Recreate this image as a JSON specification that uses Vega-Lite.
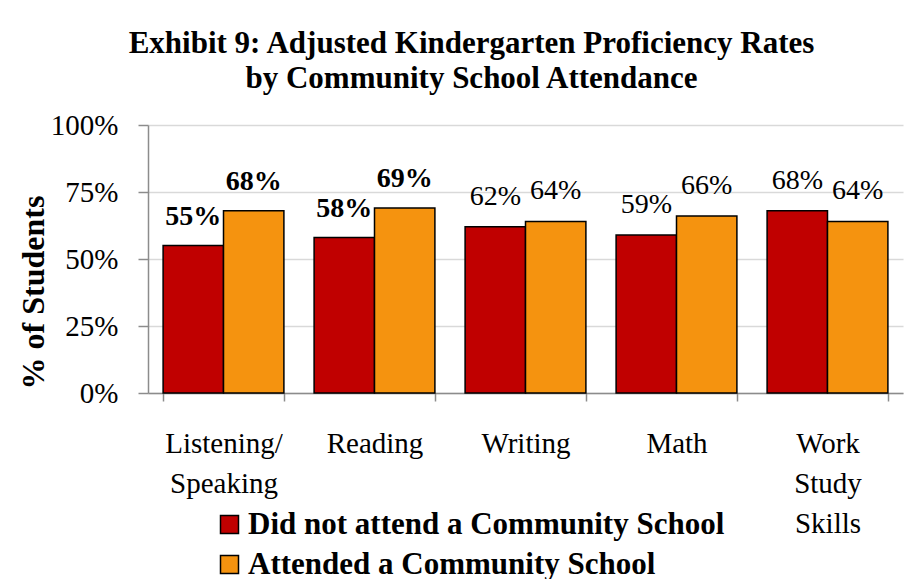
{
  "$schema": "https://vega.github.io/schema/vega-lite/v6.json",
  "autosize": {"type": "none"},
  "width": 755,
  "height": 268,
  "padding": {"left": 148, "top": 125, "right": 5, "bottom": 186},
  "background": "white",
  "config": {
    "font": "Liberation Serif",
    "view": {"stroke": null}
  },
  "title": {
    "text": ["Exhibit 9: Adjusted Kindergarten Proficiency Rates", "by Community School Attendance"],
    "font": "Liberation Serif",
    "fontSize": 31,
    "fontWeight": "bold",
    "color": "black",
    "lineHeight": 35,
    "anchor": "middle",
    "dx": -54,
    "offset": 16
  },
  "data": {
    "values": [
      {"domain": "Listening/Speaking", "group": "Did not attend a Community School", "rate": 0.55, "significant": true},
      {"domain": "Listening/Speaking", "group": "Attended a Community School", "rate": 0.68, "significant": true},
      {"domain": "Reading", "group": "Did not attend a Community School", "rate": 0.58, "significant": true},
      {"domain": "Reading", "group": "Attended a Community School", "rate": 0.69, "significant": true},
      {"domain": "Writing", "group": "Did not attend a Community School", "rate": 0.62, "significant": false},
      {"domain": "Writing", "group": "Attended a Community School", "rate": 0.64, "significant": false},
      {"domain": "Math", "group": "Did not attend a Community School", "rate": 0.59, "significant": false},
      {"domain": "Math", "group": "Attended a Community School", "rate": 0.66, "significant": false},
      {"domain": "Work Study Skills", "group": "Did not attend a Community School", "rate": 0.68, "significant": false},
      {"domain": "Work Study Skills", "group": "Attended a Community School", "rate": 0.64, "significant": false}
    ]
  },
  "encoding": {
    "x": {
      "field": "domain",
      "type": "nominal",
      "sort": null,
      "scale": {"paddingInner": 0.2, "paddingOuter": 0.1},
      "axis": {
        "title": null,
        "labelAngle": 0,
        "labelFont": "Liberation Serif",
        "labelFontSize": 29,
        "labelColor": "black",
        "labelPadding": 28,
        "labelLineHeight": 40,
        "labelBaseline": "top",
        "labelExpr": "!isValid(datum.value) ? '' : datum.value == 'Listening/Speaking' ? ['Listening/', 'Speaking'] : split(datum.value, ' ')",
        "tickBand": "extent",
        "tickSize": 8,
        "tickColor": "#8c8c8c",
        "tickWidth": 1.5,
        "domainColor": "#8c8c8c",
        "domainWidth": 1.5,
        "grid": false
      }
    },
    "xOffset": {
      "field": "group",
      "type": "nominal",
      "sort": ["Did not attend a Community School", "Attended a Community School"]
    },
    "y": {
      "field": "rate",
      "type": "quantitative",
      "scale": {"domain": [0, 1]},
      "axis": {
        "title": "% of Students",
        "titleFont": "Liberation Serif",
        "titleFontSize": 32,
        "titleFontWeight": "bold",
        "titleColor": "black",
        "titlePadding": 0,
        "titleY": 167,
        "values": [0, 0.25, 0.5, 0.75, 1],
        "format": ".0%",
        "labelFont": "Liberation Serif",
        "labelFontSize": 29,
        "labelColor": "black",
        "labelPadding": 20,
        "tickSize": 10,
        "tickColor": "#8c8c8c",
        "tickWidth": 1.5,
        "domainColor": "#8c8c8c",
        "domainWidth": 1.5,
        "gridColor": "#d9d9d9",
        "gridWidth": 1.5
      }
    }
  },
  "layer": [
    {
      "mark": {"type": "bar", "stroke": "black", "strokeWidth": 1.5},
      "encoding": {
        "color": {
          "field": "group",
          "type": "nominal",
          "scale": {
            "domain": ["Did not attend a Community School", "Attended a Community School"],
            "range": ["#c00000", "#f5930f"]
          },
          "legend": {
            "title": null,
            "orient": "none",
            "legendX": 66,
            "legendY": 384,
            "direction": "vertical",
            "symbolType": "square",
            "symbolSize": 324,
            "symbolStrokeColor": "black",
            "symbolStrokeWidth": 1.5,
            "symbolOpacity": 1,
            "labelFont": "Liberation Serif",
            "labelFontSize": 31,
            "labelFontWeight": "bold",
            "labelColor": "black",
            "labelOffset": 3,
            "labelLimit": 700,
            "rowPadding": 8
          }
        }
      }
    },
    {
      "transform": [{"filter": "datum.significant"}],
      "mark": {"type": "text", "font": "Liberation Serif", "fontSize": 28, "fontWeight": "bold", "baseline": "alphabetic", "dy": -21, "color": "black"},
      "encoding": {
        "text": {"field": "rate", "type": "quantitative", "format": ".0%"}
      }
    },
    {
      "transform": [{"filter": "!datum.significant"}],
      "mark": {"type": "text", "font": "Liberation Serif", "fontSize": 28, "fontWeight": "normal", "baseline": "alphabetic", "dy": -22, "color": "black"},
      "encoding": {
        "text": {"field": "rate", "type": "quantitative", "format": ".0%"}
      }
    }
  ]
}
